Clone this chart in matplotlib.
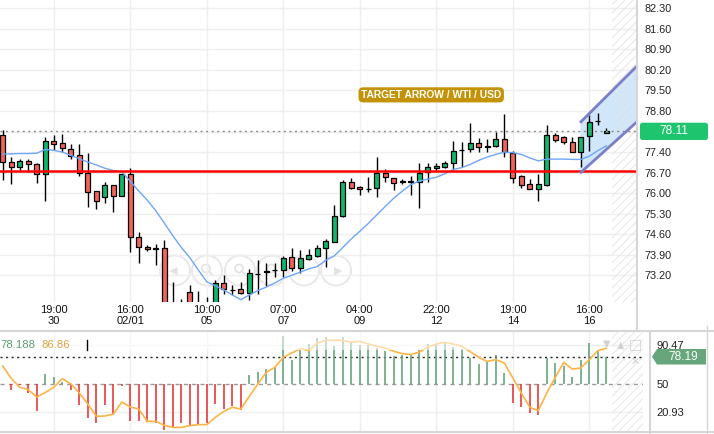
import numpy as np
import matplotlib
matplotlib.use("Agg")
import matplotlib.pyplot as plt
from matplotlib.patches import Rectangle, Polygon, FancyBboxPatch, Ellipse
from matplotlib.lines import Line2D
from matplotlib.transforms import IdentityTransform

plt.rcParams['font.family'] = ['Liberation Sans', 'DejaVu Sans']
plt.rcParams['hatch.linewidth'] = 0.7
plt.rcParams['hatch.color'] = '#e6e6e6'

# ---------------- data ----------------
opens = [77.98, 77.05, 76.88, 77.09, 76.98, 76.64, 77.79, 77.72, 77.49, 77.29,
         76.68, 76.06, 75.86, 76.27, 75.90, 76.65, 74.52, 74.15, 74.12, 74.12,
         72.10, 72.05, 72.62, 72.10, 72.05, 72.20, 72.95, 72.71, 72.72, 72.59,
         73.23, 73.31, 73.37, 73.38, 73.81, 73.44, 73.74, 73.86, 74.12, 74.32,
         75.23, 76.37, 76.20, 76.13, 76.17, 76.68, 76.51, 76.39, 76.39, 76.39,
         76.71, 76.85, 76.90, 77.02, 77.47, 77.49, 77.72, 77.56, 77.61, 77.84,
         77.36, 76.59, 76.30, 76.13, 76.28, 77.98, 77.92, 77.75, 77.41, 77.95,
         78.47, 78.04]
highs = [78.15, 77.22, 77.16, 77.17, 77.04, 77.92, 77.98, 78.02, 77.66, 77.66,
         77.36, 76.07, 76.39, 76.27, 76.66, 76.85, 74.69, 74.23, 74.27, 74.40,
         72.96, 72.39, 72.87, 72.68, 72.45, 73.04, 73.20, 72.87, 72.98, 73.40,
         73.72, 73.63, 73.63, 73.86, 74.12, 74.06, 74.09, 74.23, 74.43, 75.60,
         76.45, 76.51, 76.24, 76.54, 77.22, 76.81, 76.51, 76.47, 76.58, 77.02,
         77.04, 77.04, 77.10, 77.79, 77.75, 78.40, 77.87, 77.85, 78.10, 78.70,
         77.45, 76.62, 76.47, 76.64, 78.32, 78.06, 77.95, 77.90, 77.92, 78.66,
         78.74, 78.21]
lows = [76.45, 76.30, 76.79, 76.71, 76.34, 75.74, 77.47, 77.41, 77.15, 76.58,
        75.54, 75.45, 75.67, 75.37, 75.90, 74.00, 73.61, 74.03, 73.55, 71.95,
        71.70, 71.70, 71.90, 71.85, 71.90, 72.05, 72.56, 72.54, 72.56, 72.36,
        72.56, 72.85, 73.15, 73.15, 73.36, 73.29, 73.72, 73.83, 73.49, 74.32,
        75.18, 76.13, 75.94, 76.05, 75.88, 76.39, 76.11, 76.30, 75.94, 75.48,
        76.39, 76.79, 76.85, 76.79, 76.90, 77.41, 77.41, 77.41, 77.56, 77.22,
        76.36, 76.19, 76.13, 75.74, 76.24, 77.75, 77.68, 77.41, 76.90, 77.45,
        78.32, 78.04]
closes = [77.07, 76.88, 77.09, 76.98, 76.64, 77.79, 77.66, 77.53, 77.27, 76.70,
          76.05, 75.73, 76.27, 75.90, 76.65, 74.50, 74.15, 74.08, 74.10, 72.10,
          71.90, 71.95, 72.05, 72.00, 72.20, 72.93, 72.72, 72.70, 72.59, 73.29,
          73.24, 73.33, 73.38, 73.78, 73.44, 73.78, 73.89, 74.14, 74.37, 75.23,
          76.37, 76.17, 76.13, 76.14, 76.68, 76.54, 76.36, 76.40, 76.40, 76.68,
          76.88, 76.93, 77.02, 77.45, 77.46, 77.72, 77.56, 77.62, 77.84, 77.41,
          76.51, 76.28, 76.13, 76.30, 77.98, 77.81, 77.75, 77.41, 77.92, 78.43,
          78.46, 78.11]
ma_values = [77.33, 77.34, 77.35, 77.35, 77.36, 77.49, 77.46, 77.40, 77.29, 77.17,
             77.06, 76.96, 76.85, 76.77, 76.73, 76.40, 76.07, 75.76, 75.40, 74.98,
             74.55, 74.15, 73.80, 73.38, 72.98, 72.84, 72.70, 72.53, 72.37, 72.53,
             72.68, 72.80, 72.94, 73.10, 73.20, 73.31, 73.42, 73.50, 73.71, 73.86,
             74.15, 74.44, 74.70, 74.97, 75.26, 75.55, 75.83, 76.07, 76.29, 76.41,
             76.48, 76.54, 76.66, 76.81, 76.87, 76.98, 77.12, 77.23, 77.32, 77.40,
             77.38, 77.32, 77.20, 77.10, 77.16, 77.16, 77.16, 77.15, 77.15, 77.26,
             77.45, 77.61]
osc_hist = [np.nan, 44.0, 48.5, 40.6, 22.3, 60.2, 56.7, 52.0, 44.0, 27.8,
            14.7, 9.6, 27.8, 17.5, 47.5, 11.3, 12.0, 10.3, 9.6, 2.7,
            4.4, 9.6, 7.2, 7.9, 9.6, 29.2, 24.4, 26.8, 23.4, 58.8,
            62.3, 65.7, 67.1, 99.1, 75.0, 85.3, 91.2, 97.4, 98.1, 88.8,
            98.1, 92.2, 90.0, 89.8, 87.0, 83.6, 78.4, 79.5, 79.5, 85.3,
            91.2, 91.2, 92.2, 87.7, 86.4, 76.5, 70.5, 73.2, 79.5, 61.2,
            30.2, 25.7, 19.9, 17.5, 76.7, 71.5, 68.1, 56.7, 75.0, 92.2,
            85.3, 78.19]
osc_signal = [68.4, 55.5, 46.4, 44.0, 36.4, 41.2, 46.4, 55.4, 50.0, 40.6,
              29.2, 16.5, 16.8, 18.8, 31.2, 26.1, 24.0, 11.3, 11.3, 7.2,
              5.1, 5.1, 6.8, 7.9, 7.9, 15.4, 21.6, 25.8, 24.0, 37.1,
              49.9, 61.9, 67.1, 77.4, 81.9, 86.3, 84.3, 92.2, 95.0, 95.0,
              95.0, 92.9, 93.9, 91.2, 88.8, 87.0, 83.6, 81.2, 80.2, 82.9,
              87.7, 91.2, 92.9, 91.2, 88.8, 83.2, 77.4, 73.2, 75.0, 71.5,
              56.1, 40.6, 25.8, 22.3, 40.6, 56.7, 72.2, 65.3, 66.4, 75.0,
              84.3, 86.86]

time_ticks = [6, 15, 24, 33, 42, 51, 60, 69]
time_labels = ["19:00\n30", "16:00\n02/01", "10:00\n05", "07:00\n07",
               "04:00\n09", "22:00\n12", "19:00\n14", "16:00\n16"]
price_ticks = [73.20, 73.90, 74.60, 75.30, 76.00, 76.70, 77.40, 78.10,
               78.80, 79.50, 80.20, 80.90, 81.60, 82.30]
osc_ticks = [20.93, 50, 90.47]
osc_tick_labels = ["20.93", "50", "90.47"]

support_level = 76.75
last_price = 78.11
hist_last_label = "78.188"
signal_last_label = "86.86"
osc_last = 78.19
channel_x = [67.9, 74.6]
channel_low = [76.68, 78.43]
channel_high = [78.40, 80.33]
target_text = "TARGET ARROW / WTI / USD"
target_pos = (50.4, 79.35)
future_start = 71.67

# ---------------- figure ----------------
W, H = 714, 434
fig = plt.figure(figsize=(W / 100, H / 100), dpi=100)
fig.patch.set_facecolor('white')


def fx(px):
    return px / W


def fy(py):
    return 1 - py / H


GREEN = '#12b56c'
RED = '#f2645a'
GRID = '#efefef'

ax = fig.add_axes([0, fy(302), fx(636), 302 / H])
ax2 = fig.add_axes([0, fy(430.7), fx(643), 100 / H])
for a in (ax, ax2):
    a.set_facecolor('none')
    for s in a.spines.values():
        s.set_visible(False)
    a.set_axisbelow(True)

x = np.arange(len(closes))
o = np.array(opens)
c = np.array(closes)

# ---- main panel ----
ax.set_xticks(time_ticks)
ax.set_xticklabels(time_labels, fontsize=8, linespacing=1.1, color='#111111')
ax.set_yticks(price_ticks)
# the 78.10 tick label sits under the last-price box, as in the original
ax.set_yticklabels(['' if abs(v - last_price) < 0.05 else '%.2f' % v for v in price_ticks],
                   fontsize=7.8, color='#222222')
ax.yaxis.tick_right()
ax.tick_params(axis='both', length=0)
ax.tick_params(axis='y', pad=5.8)
ax.tick_params(axis='x', pad=2.5)
ax.grid(True, color=GRID, lw=1)

ax.axvspan(future_start, 80, facecolor='none', edgecolor='#e6e6e6', hatch='////',
           linewidth=0, zorder=1.5)
ax.fill_between(channel_x, channel_low, channel_high, color='#cfe6fb', lw=0, zorder=1)

ax.vlines(x, lows, highs, color='black', lw=1.0, zorder=3)
cols = [GREEN if cc >= oo else RED for oo, cc in zip(opens, closes)]
ax.bar(x, np.maximum(np.abs(c - o), 0.012), bottom=np.minimum(o, c), width=0.6,
       color=cols, edgecolor='black', linewidth=0.9, zorder=3.5)
ax.plot(x, ma_values, color='#6ea7f6', lw=1.0, zorder=4)
ax.axhline(last_price, color='#8c8c8c', lw=1, ls=(0, (1.5, 2.5)), zorder=4.5)
ax.axhline(support_level, color='#ff0000', lw=1.8, zorder=5)
ax.plot(channel_x, channel_low, color='#7b7fc7', lw=2, zorder=6, solid_capstyle='butt')
ax.plot(channel_x, channel_high, color='#7b7fc7', lw=2, zorder=6, solid_capstyle='butt')

ax.text(target_pos[0], target_pos[1], target_text, ha='center', va='center',
        color='white', fontsize=7.4, fontweight='bold', zorder=8,
        bbox=dict(boxstyle='round,pad=0.25,rounding_size=0.45', fc='#c49205', ec='none'))

ax.set_xlim(-0.33, 74.49)
ax.set_ylim(72.29, 82.583)

# ---- oscillator panel ----
ax2.set_xticks(time_ticks)
ax2.set_xticklabels([])
ax2.set_yticks(osc_ticks)
ax2.set_yticklabels(osc_tick_labels, fontsize=8, color='#222222')
ax2.yaxis.tick_right()
ax2.tick_params(axis='both', length=0)
ax2.tick_params(axis='y', pad=10)
ax2.grid(True, axis='x', color=GRID, lw=1)
for v in (osc_ticks[0], osc_ticks[2]):
    ax2.axhline(v, color=GRID, lw=1, zorder=0.5)

ax2.axvspan(future_start, 80, facecolor='none', edgecolor='#e6e6e6', hatch='////',
            linewidth=0, zorder=1.5)
ax2.axhline(50, color='#9a9a9a', lw=1, ls=(0, (3, 3)), zorder=2)
ax2.axhline(osc_last, color='#222222', lw=1, ls=(0, (1.5, 2.5)), zorder=2)
h = np.array(osc_hist)
hcols = ['#5c9e73' if v >= 50 else '#e62a2a' for v in np.nan_to_num(h, nan=50)]
ax2.vlines(x, 50, h, colors=hcols, lw=1.1, zorder=3)
ax2.plot(x, osc_signal, color='#ffb347', lw=1.2, zorder=4)
ax2.add_patch(Rectangle((-1, 85.3), 56.0, 30, fc='white', alpha=0.55, ec='none', zorder=5))
ax2.set_xlim(-0.33, (643 - 2.8) / 8.5)
ax2.set_ylim(1.64, 104.9)

# ---- figure-level decorations ----
BORDER = '#d6d6d6'
def fline(x0, y0, x1, y1, color=BORDER, lw=1.5):
    fig.add_artist(Line2D([fx(x0), fx(x1)], [fy(y0), fy(y1)], color=color, lw=lw,
                          transform=fig.transFigure, zorder=2))

fline(636.5, 0, 636.5, 330.5)
fline(0, 330.5, W, 330.5)
fline(0, 431.5, W, 431.5)
fline(650, 330.5, 650, H)
fline(707, 326, 707, H, lw=1)

# navigation buttons (faint)
NAV = '#e8e8e8'
for cx in [175, 207, 240, 272, 304, 336]:
    fig.add_artist(Ellipse((fx(cx), fy(270.5)), 30 / W, 30 / H, fill=False,
                           ec=NAV, lw=1.4, transform=fig.transFigure, zorder=-1))
fig.text(fx(173), fy(270.5), '◀', color='#e2e2e2', fontsize=8, ha='center', va='center',
         family=['DejaVu Sans'], zorder=-1)
fig.text(fx(338), fy(270.5), '▶', color='#e2e2e2', fontsize=8, ha='center', va='center',
         family=['DejaVu Sans'], zorder=-1)
for cx in [207, 240, 272]:
    fig.add_artist(Ellipse((fx(cx - 1), fy(268.5)), 8 / W, 8 / H, fill=False,
                           ec='#e2e2e2', lw=1.2, transform=fig.transFigure, zorder=-1))
    fig.add_artist(Line2D([fx(cx + 2), fx(cx + 6)], [fy(271.5), fy(275.5)], color='#e2e2e2',
                          lw=1.2, transform=fig.transFigure, zorder=-1))

# last price box (main)
fig.add_artist(FancyBboxPatch((640, H - 140), 68, 17.3,
                              boxstyle='round,pad=0,rounding_size=2.5',
                              fc='#1fc46f', ec='none', transform=IdentityTransform(), zorder=3))
fig.text(fx(674), fy(131.5), '%.2f' % last_price, color='white', fontsize=8.6,
         ha='center', va='center', zorder=4)

# oscillator last value box
pts = [(652, 356.7), (657, 349), (706, 349), (706, 364.5), (657, 364.5)]
fig.add_artist(Polygon([(fx(px), fy(py)) for px, py in pts], closed=True, fc='#67a67a',
                       ec='none', transform=fig.transFigure, zorder=3))
fig.text(fx(683), fy(356.9), '%.2f' % osc_last, color='white', fontsize=8.6,
         ha='center', va='center', zorder=4)

# oscillator legend
fig.text(fx(0.5), fy(344.5), hist_last_label, color='#5d9b72', fontsize=8.2,
         ha='left', va='center', zorder=4)
fig.text(fx(41), fy(344.5), signal_last_label, color='#e0a03f', fontsize=8.2,
         ha='left', va='center', zorder=4)
fline(86.7, 339.5, 86.7, 349.5, color='black', lw=1)

# panel icons
for (px, py, ch, fs) in [(606.7, 344, '▼', 7), (620.7, 344.5, '▲', 7),
                         (635.7, 344, '□', 10), (635.7, 361.3, '✕', 8)]:
    fig.text(fx(px), fy(py), ch, color='#d2d2d2', fontsize=fs, ha='center', va='center',
             family=['DejaVu Sans'], zorder=4)

fig.savefig('out.png', dpi=100, facecolor='white')
